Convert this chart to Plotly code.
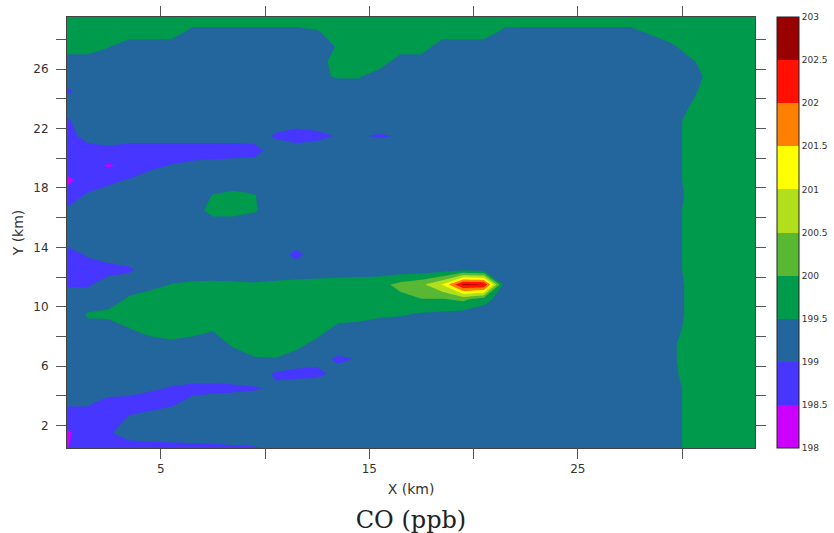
import plotly.graph_objects as go

# ---------------- data ----------------
x_km = [0.5, 1.5, 2.5, 3.5, 4.5, 5.5, 6.5, 7.5, 8.5, 9.5,
        10.5, 11.5, 12.5, 13.5, 14.5, 15.5, 16.5, 17.5, 18.5, 19.5,
        20.5, 21.5, 22.5, 23.5, 24.5, 25.5, 26.5, 27.5, 28.5, 29.5,
        30.5, 31.5, 32.5, 33.5]
y_km = [0.5, 1.5, 2.5, 3.5, 4.5, 5.5, 6.5, 7.5, 8.5, 9.5,
        10.5, 11.5, 12.5, 13.5, 14.5, 15.5, 16.5, 17.5, 18.5, 19.5,
        20.5, 21.5, 22.5, 23.5, 24.5, 25.5, 26.5, 27.5, 28.5, 29.5]

# CO (ppb), one row per y value (bottom to top), one column per x value
co_ppb = [
    [198.48, 198.8, 198.8, 198.8, 198.85, 198.88, 198.9, 198.93, 198.95, 198.98,
     199.02, 199.2, 199.2, 199.2, 199.2, 199.2, 199.2, 199.2, 199.2, 199.2,
     199.2, 199.2, 199.2, 199.2, 199.2, 199.2, 199.2, 199.2, 199.2, 199.2,
     199.8, 199.8, 199.8, 199.8],
    [198.4, 198.8, 198.95, 199.2, 199.2, 199.2, 199.2, 199.2, 199.2, 199.2,
     199.2, 199.2, 199.2, 199.2, 199.2, 199.2, 199.2, 199.2, 199.2, 199.2,
     199.2, 199.2, 199.2, 199.2, 199.2, 199.2, 199.2, 199.2, 199.2, 199.2,
     199.8, 199.8, 199.8, 199.8],
    [198.8, 198.8, 198.8, 199.05, 199.2, 199.2, 199.2, 199.2, 199.2, 199.2,
     199.2, 199.2, 199.2, 199.2, 199.2, 199.2, 199.2, 199.2, 199.2, 199.2,
     199.2, 199.2, 199.2, 199.2, 199.2, 199.2, 199.2, 199.2, 199.2, 199.2,
     199.8, 199.8, 199.8, 199.8],
    [199.05, 199.05, 198.85, 198.8, 198.8, 198.95, 199.1, 199.2, 199.2, 199.2,
     199.2, 199.2, 199.2, 199.2, 199.2, 199.2, 199.2, 199.2, 199.2, 199.2,
     199.2, 199.2, 199.2, 199.2, 199.2, 199.2, 199.2, 199.2, 199.2, 199.2,
     199.8, 199.8, 199.8, 199.8],
    [199.2, 199.2, 199.2, 199.2, 199.05, 198.97, 198.9, 198.9, 198.93, 198.97,
     199.06, 199.2, 199.2, 199.2, 199.2, 199.2, 199.2, 199.2, 199.2, 199.2,
     199.2, 199.2, 199.2, 199.2, 199.2, 199.2, 199.2, 199.2, 199.2, 199.2,
     199.8, 199.8, 199.8, 199.8],
    [199.2, 199.2, 199.2, 199.2, 199.2, 199.2, 199.2, 199.2, 199.2, 199.2,
     198.95, 198.9, 198.92, 199.1, 199.2, 199.2, 199.2, 199.2, 199.2, 199.2,
     199.2, 199.2, 199.2, 199.2, 199.2, 199.2, 199.2, 199.2, 199.2, 199.35,
     199.8, 199.8, 199.8, 199.8],
    [199.2, 199.2, 199.2, 199.2, 199.2, 199.2, 199.2, 199.2, 199.2, 199.45,
     199.48, 199.2, 199.1, 198.95, 199.02, 199.2, 199.2, 199.2, 199.2, 199.2,
     199.2, 199.2, 199.2, 199.2, 199.2, 199.2, 199.2, 199.2, 199.2, 199.4,
     199.8, 199.8, 199.8, 199.8],
    [199.2, 199.2, 199.2, 199.2, 199.2, 199.37, 199.2, 199.2, 199.6, 199.8,
     199.8, 199.7, 199.3, 199.2, 199.2, 199.2, 199.2, 199.2, 199.2, 199.2,
     199.2, 199.2, 199.2, 199.2, 199.2, 199.2, 199.2, 199.2, 199.2, 199.4,
     199.8, 199.8, 199.8, 199.8],
    [199.2, 199.4, 199.2, 199.48, 199.8, 199.8, 199.8, 199.55, 199.8, 199.8,
     199.8, 199.8, 199.8, 199.3, 199.2, 199.2, 199.2, 199.2, 199.2, 199.2,
     199.2, 199.2, 199.2, 199.2, 199.2, 199.2, 199.2, 199.2, 199.2, 199.2,
     199.8, 199.8, 199.8, 199.8],
    [199.2, 199.54, 199.65, 199.8, 199.8, 199.8, 199.8, 199.8, 199.8, 199.8,
     199.8, 199.8, 199.8, 199.8, 199.8, 199.6, 199.55, 199.45, 199.4, 199.3,
     199.2, 199.2, 199.2, 199.2, 199.2, 199.2, 199.2, 199.2, 199.2, 199.2,
     199.7, 199.8, 199.8, 199.8],
    [199.2, 199.2, 199.2, 199.6, 199.95, 199.85, 199.85, 199.85, 199.85, 199.85,
     199.85, 199.85, 199.85, 199.85, 199.85, 199.85, 199.85, 199.98, 199.95, 200.1,
     199.7, 199.2, 199.2, 199.2, 199.2, 199.2, 199.2, 199.2, 199.2, 199.2,
     199.7, 199.8, 199.8, 199.8],
    [198.95, 198.95, 199.2, 199.2, 199.2, 199.52, 199.58, 199.6, 199.58, 199.55,
     199.6, 199.65, 199.7, 199.75, 199.8, 199.85, 200.15, 200.375, 201.02, 202.6,
     202.52, 199.2, 199.2, 199.2, 199.2, 199.2, 199.2, 199.2, 199.2, 199.2,
     199.7, 199.8, 199.8, 199.8],
    [198.7, 198.8, 198.85, 198.95, 199.2, 199.2, 199.2, 199.2, 199.2, 199.2,
     199.2, 199.2, 199.2, 199.2, 199.2, 199.2, 199.2, 199.2, 199.2, 199.35,
     199.2, 199.2, 199.2, 199.2, 199.2, 199.2, 199.2, 199.2, 199.2, 199.2,
     199.8, 199.8, 199.8, 199.8],
    [198.8, 199.05, 199.2, 199.2, 199.2, 199.2, 199.2, 199.2, 199.2, 199.2,
     199.2, 198.9, 199.2, 199.2, 199.2, 199.2, 199.2, 199.2, 199.2, 199.2,
     199.2, 199.2, 199.2, 199.2, 199.2, 199.2, 199.2, 199.2, 199.2, 199.2,
     199.8, 199.8, 199.8, 199.8],
    [199.2, 199.2, 199.2, 199.2, 199.2, 199.2, 199.2, 199.2, 199.2, 199.2,
     199.2, 199.2, 199.2, 199.2, 199.2, 199.2, 199.2, 199.2, 199.2, 199.2,
     199.2, 199.2, 199.2, 199.2, 199.2, 199.2, 199.2, 199.2, 199.2, 199.2,
     199.8, 199.8, 199.8, 199.8],
    [199.2, 199.2, 199.2, 199.2, 199.2, 199.2, 199.2, 199.2, 199.2, 199.2,
     199.2, 199.2, 199.2, 199.2, 199.2, 199.2, 199.2, 199.2, 199.2, 199.2,
     199.2, 199.2, 199.2, 199.2, 199.2, 199.2, 199.2, 199.2, 199.2, 199.2,
     199.8, 199.8, 199.8, 199.8],
    [199.05, 199.2, 199.2, 199.2, 199.2, 199.2, 199.2, 199.72, 199.72, 199.55,
     199.2, 199.2, 199.2, 199.2, 199.2, 199.2, 199.2, 199.2, 199.2, 199.2,
     199.2, 199.2, 199.2, 199.2, 199.2, 199.2, 199.2, 199.2, 199.2, 199.2,
     199.8, 199.8, 199.8, 199.8],
    [198.8, 199.05, 199.2, 199.2, 199.2, 199.2, 199.2, 199.52, 199.63, 199.52,
     199.2, 199.2, 199.2, 199.2, 199.2, 199.2, 199.2, 199.2, 199.2, 199.2,
     199.2, 199.2, 199.2, 199.2, 199.2, 199.2, 199.2, 199.2, 199.2, 199.2,
     199.7, 199.8, 199.8, 199.8],
    [198.35, 198.8, 198.9, 199.05, 199.2, 199.2, 199.2, 199.2, 199.2, 199.2,
     199.2, 199.2, 199.2, 199.2, 199.2, 199.2, 199.2, 199.2, 199.2, 199.2,
     199.2, 199.2, 199.2, 199.2, 199.2, 199.2, 199.2, 199.2, 199.2, 199.2,
     199.8, 199.8, 199.8, 199.8],
    [198.8, 198.6, 198.45, 198.6, 198.9, 199.02, 199.1, 199.15, 199.2, 199.2,
     199.2, 199.2, 199.2, 199.2, 199.2, 199.2, 199.2, 199.2, 199.2, 199.2,
     199.2, 199.2, 199.2, 199.2, 199.2, 199.2, 199.2, 199.2, 199.2, 199.2,
     199.8, 199.8, 199.8, 199.8],
    [198.8, 198.8, 198.9, 198.8, 198.8, 198.8, 198.8, 198.8, 198.8, 198.85,
     199.2, 199.2, 199.2, 199.2, 199.2, 199.2, 199.2, 199.2, 199.2, 199.2,
     199.2, 199.2, 199.2, 199.2, 199.2, 199.2, 199.2, 199.2, 199.2, 199.2,
     199.8, 199.8, 199.8, 199.8],
    [198.8, 199.2, 199.2, 199.2, 199.2, 199.2, 199.2, 199.2, 199.2, 199.2,
     198.95, 198.8, 198.9, 199.03, 199.02, 198.97, 199.02, 199.2, 199.2, 199.2,
     199.2, 199.2, 199.2, 199.2, 199.2, 199.2, 199.2, 199.2, 199.2, 199.2,
     199.8, 199.8, 199.8, 199.8],
    [198.95, 199.2, 199.2, 199.2, 199.2, 199.2, 199.2, 199.2, 199.2, 199.2,
     199.2, 199.2, 199.2, 199.2, 199.2, 199.2, 199.2, 199.2, 199.2, 199.2,
     199.2, 199.2, 199.2, 199.2, 199.2, 199.2, 199.2, 199.2, 199.2, 199.2,
     199.8, 199.8, 199.8, 199.8],
    [199.2, 199.2, 199.2, 199.2, 199.2, 199.2, 199.2, 199.2, 199.2, 199.2,
     199.2, 199.2, 199.2, 199.2, 199.2, 199.2, 199.2, 199.2, 199.2, 199.2,
     199.2, 199.2, 199.2, 199.2, 199.2, 199.2, 199.2, 199.2, 199.2, 199.2,
     199.55, 199.8, 199.8, 199.8],
    [198.93, 199.2, 199.2, 199.2, 199.2, 199.2, 199.2, 199.2, 199.2, 199.2,
     199.2, 199.2, 199.2, 199.2, 199.2, 199.2, 199.2, 199.2, 199.2, 199.2,
     199.2, 199.2, 199.2, 199.2, 199.2, 199.2, 199.2, 199.2, 199.2, 199.2,
     199.4, 199.8, 199.8, 199.8],
    [199.2, 199.2, 199.2, 199.2, 199.2, 199.2, 199.2, 199.2, 199.2, 199.2,
     199.2, 199.2, 199.4, 199.55, 199.55, 199.2, 199.2, 199.2, 199.2, 199.2,
     199.2, 199.2, 199.2, 199.2, 199.2, 199.2, 199.2, 199.2, 199.2, 199.2,
     199.2, 199.8, 199.8, 199.8],
    [199.2, 199.2, 199.2, 199.2, 199.2, 199.2, 199.2, 199.2, 199.2, 199.2,
     199.2, 199.2, 199.2, 199.8, 199.8, 199.8, 199.2, 199.2, 199.2, 199.2,
     199.2, 199.2, 199.2, 199.2, 199.2, 199.2, 199.2, 199.2, 199.2, 199.2,
     199.45, 199.8, 199.8, 199.8],
    [199.8, 199.8, 199.52, 199.2, 199.2, 199.2, 199.2, 199.2, 199.2, 199.2,
     199.2, 199.2, 199.2, 199.55, 199.8, 199.8, 199.8, 199.8, 199.2, 199.2,
     199.2, 199.2, 199.2, 199.2, 199.2, 199.2, 199.2, 199.2, 199.2, 199.4,
     199.8, 199.8, 199.8, 199.8],
    [199.8, 199.8, 199.8, 199.8, 199.8, 199.8, 199.35, 199.35, 199.35, 199.35,
     199.35, 199.35, 199.45, 199.8, 199.8, 199.8, 199.8, 199.8, 199.8, 199.8,
     199.8, 199.37, 199.35, 199.35, 199.35, 199.35, 199.35, 199.35, 199.58, 199.8,
     199.8, 199.8, 199.8, 199.8],
    [199.8, 199.8, 199.8, 199.8, 199.8, 199.8, 199.8, 199.8, 199.8, 199.8,
     199.8, 199.8, 199.8, 199.8, 199.8, 199.8, 199.8, 199.8, 199.8, 199.8,
     199.8, 199.8, 199.8, 199.8, 199.8, 199.8, 199.8, 199.8, 199.8, 199.8,
     199.8, 199.8, 199.8, 199.8],
]

levels = [198, 198.5, 199, 199.5, 200, 200.5, 201, 201.5, 202, 202.5, 203]
level_labels = ["198", "198.5", "199", "199.5", "200", "200.5",
                "201", "201.5", "202", "202.5", "203"]
band_colors = ["#cc00ff", "#4636ff", "#23669d", "#009a4c", "#58b834",
               "#b2df1b", "#ffff00", "#ff8000", "#ff1000", "#990000"]

x_tick_vals = [5, 10, 15, 20, 25, 30]
x_tick_text = ["5", "", "15", "", "25", ""]
y_tick_vals = [2, 4, 6, 8, 10, 12, 14, 16, 18, 20, 22, 24, 26, 28]
y_tick_text = ["2", "", "6", "", "10", "", "14", "", "18", "", "22", "", "26", ""]

for row in co_ppb:
    assert len(row) == len(x_km)
assert len(co_ppb) == len(y_km)

# stepped colorscale: one flat colour per 0.5 ppb band
n_bands = len(band_colors)
colorscale = []
for k, c in enumerate(band_colors):
    colorscale.append([k / n_bands, c])
    colorscale.append([(k + 1) / n_bands, c])

fig = go.Figure(
    go.Contour(
        x=x_km, y=y_km, z=co_ppb,
        zmin=levels[0], zmax=levels[-1],
        autocontour=False,
        contours=dict(start=levels[0], end=levels[-1], size=levels[1] - levels[0],
                      coloring="fill", showlines=False),
        line=dict(smoothing=0, width=0),
        colorscale=colorscale,
        hoverinfo="skip",
        colorbar=dict(
            x=1.032, xanchor="left", xpad=0,
            y=0.5, yanchor="middle", ypad=0,
            len=1, lenmode="fraction", thickness=22,
            outlinewidth=1, outlinecolor="#222",
            tickmode="array", tickvals=levels, ticktext=level_labels,
            ticks="", tickfont=dict(family="DejaVu Sans", size=9, color="#333"),
        ),
    )
)

fig.update_layout(
    width=834, height=533,
    margin=dict(l=67, r=79, t=17, b=85, autoexpand=False),
    paper_bgcolor="white", plot_bgcolor="white",
    font=dict(family="DejaVu Sans", color="#333"),
    title=dict(text="CO (ppb)", x=0.5, xref="paper", xanchor="center",
               y=0.026, yref="container", yanchor="middle",
               font=dict(family="DejaVu Serif", size=24, color="#222")),
    showlegend=False,
)
fig.update_xaxes(
    range=[x_km[0], x_km[-1]], tickmode="array", tickvals=x_tick_vals, ticktext=x_tick_text,
    ticks="outside", ticklen=10, tickcolor="#555", tickwidth=1,
    showline=True, linecolor="#444", linewidth=1, mirror="ticks",
    showgrid=False, zeroline=False, ticklabelstandoff=0,
    tickfont=dict(size=12, color="#333"),
    title=dict(text="X (km)", font=dict(size=14, color="#333"), standoff=8),
)
fig.update_yaxes(
    range=[y_km[0], y_km[-1]], tickmode="array", tickvals=y_tick_vals, ticktext=y_tick_text,
    ticks="outside", ticklen=10, tickcolor="#555", tickwidth=1,
    showline=True, linecolor="#444", linewidth=1, mirror="ticks",
    showgrid=False, zeroline=False, ticklabelstandoff=5,
    tickfont=dict(size=12, color="#333"),
    title=dict(text="Y (km)", font=dict(size=14, color="#333"), standoff=6),
)

fig.write_html("out.html", config={"displayModeBar": False},
               post_script="document.body.style.margin='0px';")
